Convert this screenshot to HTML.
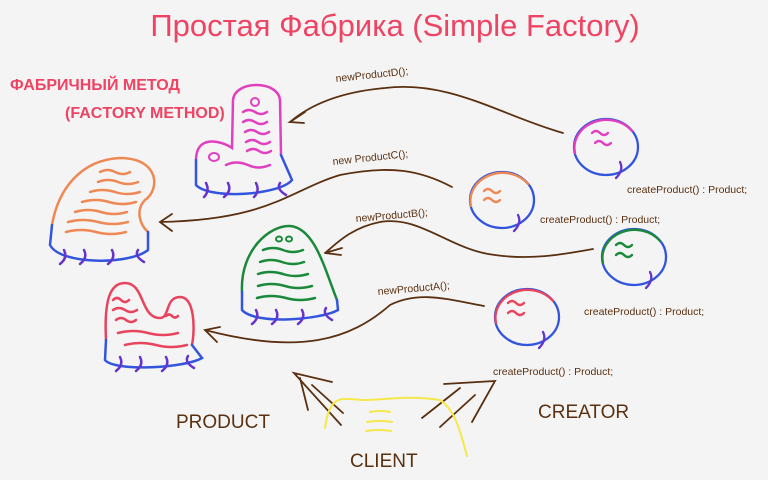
<!DOCTYPE html>
<html><head><meta charset="utf-8"><style>
html,body{margin:0;padding:0;background:#f4f4f4;}
svg{display:block}
text{font-family:"Liberation Sans",sans-serif}
</style></head><body>
<svg width="768" height="480" viewBox="0 0 768 480" xmlns="http://www.w3.org/2000/svg">
<rect width="768" height="480" fill="#f4f4f4"/>
<text x="395" y="36" text-anchor="middle" font-size="31" fill="#ef4363">Простая Фабрика (Simple Factory)</text>
<text x="10" y="90" font-size="16" fill="#ef4363" font-weight="bold">ФАБРИЧНЫЙ МЕТОД</text>
<text x="65" y="118" font-size="16" fill="#ef4363" font-weight="bold">(FACTORY METHOD)</text>

<g fill="none" stroke-width="2.5" stroke-linecap="round">
<!-- magenta D -->
<path d="M196,160 C196,135 220,140 232,148 L233,100 C235,80 278,80 280,100 L281,155" stroke="#e040c0"/>
<path d="M196,160 L196,185 C210,200 280,195 292,180 L281,155" stroke="#3355dd"/>
<circle cx="255" cy="102" r="4" stroke="#e040c0" stroke-width="2"/>
<ellipse cx="214" cy="157" rx="5" ry="4" stroke="#e040c0" stroke-width="2"/>
<path d="M243,112 q6,-4 12,0 q6,4 12,0 M243,122 q6,-4 12,0 q6,4 12,0 M245,132 q6,-4 12,0 q6,4 12,0 M246,142 q6,-4 12,0 q6,4 12,0 M247,151 q6,-4 12,0 q6,4 12,0 M226,165 q10,-5 22,0 q10,5 22,0" stroke="#e040c0"/>
<path d="M206,183 q4,8 -2,14 M228,183 q4,8 -4,14 M256,183 q4,8 -2,14 M280,183 q-4,6 6,12" stroke="#6633cc"/>
<!-- orange -->
<path d="M52,225 C58,190 80,160 120,158 C160,158 160,190 145,200 C135,210 140,225 148,232" stroke="#ee8855"/>
<path d="M52,225 L50,245 C60,265 130,265 148,250 L148,232" stroke="#3355dd"/>
<path d="M100,172 q8,-4 15,0 q8,4 15,0 M98,182 q10,-4 20,0 q10,4 20,0 M90,192 q12,-4 25,0 q12,4 25,0 M82,202 q14,-4 27,0 q14,4 27,0 M75,212 q13,-4 26,0 q13,4 26,0 M68,222 q15,-4 30,0 q15,4 30,0 M66,232 q15,-4 30,0 q15,4 30,0" stroke="#ee8855"/>
<path d="M64,250 q4,8 -4,14 M84,250 q4,8 -4,14 M112,250 q4,8 -4,14 M138,250 q-4,6 6,12" stroke="#6633cc"/>
<!-- green -->
<path d="M242,292 C240,250 270,225 290,226 C315,228 325,270 337,300" stroke="#1a8a3a"/>
<path d="M242,292 L242,310 C255,325 320,320 338,310 L337,300" stroke="#3355dd"/>
<ellipse cx="279" cy="239" rx="3" ry="2.5" stroke="#1a8a3a" stroke-width="2"/><ellipse cx="289" cy="239" rx="3" ry="2.5" stroke="#1a8a3a" stroke-width="2"/>
<path d="M263,250 q10,-4 20,0 q10,4 20,0 M260,262 q11,-4 22,0 q11,4 22,0 M258,274 q12,-4 25,0 q12,4 25,0 M258,286 q13,-4 27,0 q13,4 27,0 M257,298 q14,-4 29,0 q14,4 29,0" stroke="#1a8a3a"/>
<path d="M256,310 q4,8 -4,14 M276,310 q4,8 -4,14 M302,310 q4,8 -4,14 M326,308 q-4,6 6,12" stroke="#6633cc"/>
<!-- red -->
<path d="M106,340 C104,300 110,283 125,283 C145,283 140,318 160,318 C170,318 165,297 180,297 C195,297 195,330 192,345" stroke="#e8445e"/>
<path d="M106,340 L105,360 C115,372 185,368 202,358 L192,345" stroke="#3355dd"/>
<path d="M113,300 q4,-4 8,0 q4,4 8,0 M113,310 q6,-4 12,0 q6,4 12,0 M116,320 q5,-4 10,0 q5,4 10,0 M166,316 q3,-3 6,0 q3,3 6,0 M118,333 q15,-4 30,0 q15,4 30,0 M125,345 q15,-4 31,0 q15,4 31,0" stroke="#e8445e"/>
<path d="M120,357 q4,8 -4,14 M140,357 q4,8 -4,14 M166,357 q4,8 -4,14 M188,356 q-4,6 6,12" stroke="#6633cc"/>

<!-- ovals -->
<g stroke-width="2.3">
<ellipse cx="606" cy="147" rx="32" ry="28" stroke="#3355dd"/>
<path d="M575,153 A32,28 0 0 1 632,131" stroke="#e040c0"/>
<path d="M592,133 q4,-4 8,0 q4,4 8,0 M595,143 q4,-4 8,0 q4,4 8,0" stroke="#e040c0"/>
<path d="M620,162 q4,8 -4,16" stroke="#6633cc"/>
<ellipse cx="502" cy="200" rx="32" ry="28" stroke="#3355dd"/>
<path d="M471,206 A32,28 0 0 1 528,184" stroke="#ee8855"/>
<path d="M484,191 q4,-4 8,0 q4,4 8,0 M484,200 q4,-4 8,0 q4,4 8,0" stroke="#ee8855"/>
<path d="M518,215 q4,8 -4,16" stroke="#6633cc"/>
<ellipse cx="634" cy="257" rx="32" ry="28" stroke="#3355dd"/>
<path d="M603,263 A32,28 0 0 1 660,241" stroke="#1a8a3a"/>
<path d="M616,245 q4,-4 8,0 q4,4 8,0 M616,255 q4,-4 8,0 q4,4 8,0" stroke="#1a8a3a"/>
<path d="M650,272 q4,8 -4,16" stroke="#6633cc"/>
<ellipse cx="527" cy="317" rx="32" ry="28" stroke="#3355dd"/>
<path d="M496,323 A32,28 0 0 1 553,301" stroke="#e8445e"/>
<path d="M508,303 q4,-4 8,0 q4,4 8,0 M508,313 q4,-4 8,0 q4,4 8,0" stroke="#e8445e"/>
<path d="M543,332 q4,8 -4,16" stroke="#6633cc"/>
</g>

<!-- arrows -->
<g stroke="#5a3010" stroke-width="1.8">
<path d="M563,133 C500,115 450,80 385,88 C340,92 310,105 290,122"/>
<path d="M305,112 L290,122 L304,123"/>
<path d="M452,187 C420,170 390,165 340,175 C290,190 270,220 160,222"/>
<path d="M172,214 L160,222 L172,231"/>
<path d="M593,249 C560,255 530,260 495,255 C450,250 420,215 380,222 C350,228 335,245 325,253"/>
<path d="M342,248 L325,253 L341,255"/>
<path d="M484,306 C450,300 420,290 390,305 C350,340 300,355 205,330"/>
<path d="M220,327 L205,330 L217,342"/>
<path d="M341,425 L294,373 L332,382 M343,413 L312,385 M300,378 L308,410"/>
<path d="M422,418 L460,388 M440,427 L475,395 M444,384 L495,381 L472,422"/>
</g>
<path d="M325,428 C330,390 345,400 365,400 C385,400 405,395 440,400 C455,410 460,430 467,456 M370,412 q10,-2 20,0 M367,422 q12,-2 25,0 M366,431 q12,-2 25,0" fill="none" stroke="#f5e84a" stroke-width="2"/>
</g>

<g fill="#5a3010" font-size="10.5">
<text x="336" y="82" transform="rotate(-6 336 82)">newProductD();</text>
<text x="333" y="165" transform="rotate(-6 333 165)">new ProductC();</text>
<text x="356" y="222" transform="rotate(-5 356 222)">newProductB();</text>
<text x="378" y="295" transform="rotate(-5 378 295)">newProductA();</text>
<text x="627" y="193">createProduct() : Product;</text>
<text x="540" y="223">createProduct() : Product;</text>
<text x="584" y="315">createProduct() : Product;</text>
<text x="493" y="375">createProduct() : Product;</text>
</g>
<g fill="#5a3010" font-size="19">
<text x="176" y="428">PRODUCT</text>
<text x="538" y="418">CREATOR</text>
<text x="350" y="467">CLIENT</text>
</g>
</svg>
</body></html>
